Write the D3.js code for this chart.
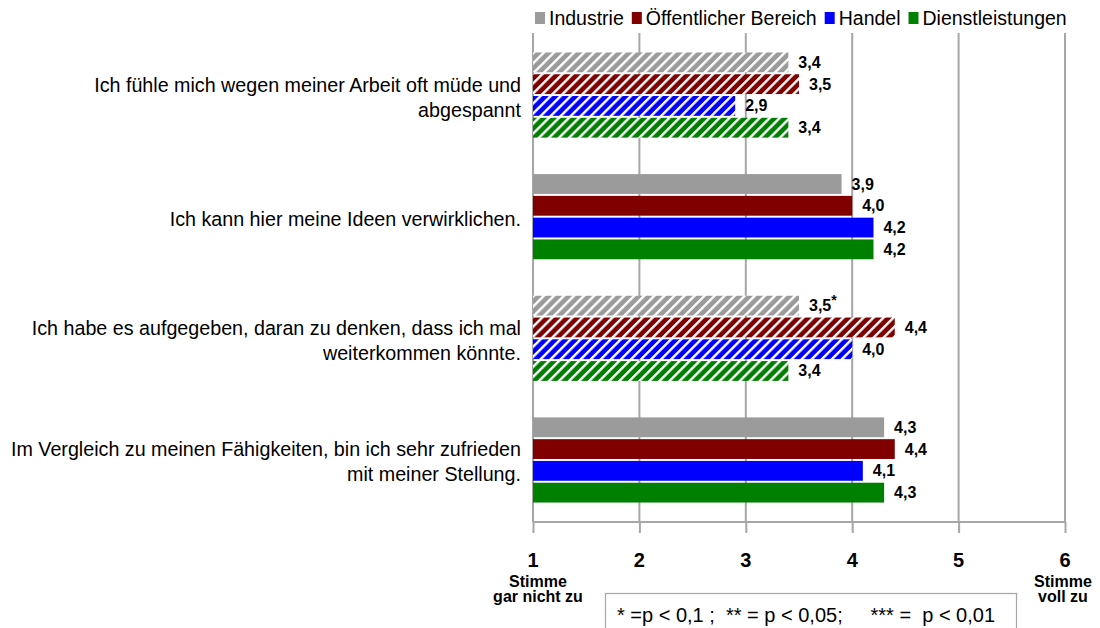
<!DOCTYPE html>
<html><head><meta charset="utf-8">
<script src="https://cdn.jsdelivr.net/npm/d3@7"></script>
<style>
html,body{margin:0;padding:0;background:#fff;}
svg{display:block;font-family:"Liberation Sans",Arial,sans-serif;}
</style></head>
<body>
<script>
// ---- data ----
const categories = [
  ["Ich fühle mich wegen meiner Arbeit oft müde und", "abgespannt"],
  ["Ich kann hier meine Ideen verwirklichen."],
  ["Ich habe es aufgegeben, daran zu denken, dass ich mal", "weiterkommen könnte."],
  ["Im Vergleich zu meinen Fähigkeiten, bin ich sehr zufrieden", "mit meiner Stellung."]
];
const hatchedCategories = [true, false, true, false];
const seriesNames = ["Industrie", "Öffentlicher Bereich", "Handel", "Dienstleistungen"];
const seriesColors = ["#9b9b9b", "#800000", "#0000ff", "#008000"];
const industrie = [3.4, 3.9, 3.5, 4.3];
const oeffentlich = [3.5, 4.0, 4.4, 4.4];
const handel = [2.9, 4.2, 4.0, 4.1];
const dienst = [3.4, 4.2, 3.4, 4.3];
// significance markers, per series (rows) and category (columns)
const sigIndustrie = ["", "", "*", ""];
const sigOeffentlich = ["", "", "", ""];
const sigHandel = ["", "", "", ""];
const sigDienst = ["", "", "", ""];
const tickValues = [1, 2, 3, 4, 5, 6];
const endLabels = {1: ["Stimme", "gar nicht zu"], 6: ["Stimme", "voll zu"]};
const footnote = "* =p < 0,1 ;  ** = p < 0,05;     *** =  p < 0,01";

const seriesValues = [industrie, oeffentlich, handel, dienst];
const significance = [sigIndustrie, sigOeffentlich, sigHandel, sigDienst];

(function draw() {
// ---- layout ----
const W = 1100, H = 628;
const mLeft = 533, mRight = 1065, mTop = 33, mBottom = 522;

const svg = d3.select("body").append("svg").attr("width", W).attr("height", H);
const defs = svg.append("defs");

seriesColors.forEach((c, i) => {
  const p = defs.append("pattern")
    .attr("id", "hatch" + i)
    .attr("patternUnits", "userSpaceOnUse")
    .attr("width", 7.1).attr("height", 7.1)
    .attr("patternTransform", "rotate(45)");
  p.append("rect").attr("width", 7.1).attr("height", 7.1).attr("fill", c);
  p.append("rect").attr("x", 0).attr("width", 2.4).attr("height", 7.1).attr("fill", "#fff");
});

const x = d3.scaleLinear().domain([1, 6]).range([mLeft, mRight]);
const y0 = d3.scaleBand().domain(d3.range(categories.length)).range([mTop, mBottom])
  .paddingInner(0.3).paddingOuter(0.16);
const y1 = d3.scaleBand().domain(d3.range(seriesNames.length)).range([0, y0.bandwidth()])
  .paddingInner(0.09);

// gridlines
svg.append("g").selectAll("line").data(tickValues).join("line")
  .attr("x1", d => x(d)).attr("x2", d => x(d))
  .attr("y1", mTop).attr("y2", mBottom)
  .attr("stroke", "#a6a6a6").attr("stroke-width", 2);

// x axis
const axis = d3.axisBottom(x).tickValues(tickValues).tickSize(11).tickFormat("");
const gx = svg.append("g").attr("transform", `translate(0,${mBottom})`).call(axis);
gx.select(".domain").attr("stroke", "#a6a6a6").attr("stroke-width", 2).attr("d", `M${mLeft},0H${mRight}`);
gx.selectAll(".tick line").attr("stroke", "#a6a6a6").attr("stroke-width", 2);

// tick labels
svg.append("g").selectAll("text").data(tickValues).join("text")
  .attr("x", d => x(d)).attr("y", 566.5)
  .attr("text-anchor", "middle")
  .attr("font-weight", "bold").attr("font-size", 20).attr("fill", "#000")
  .text(d => d);

Object.entries(endLabels).forEach(([k, lines]) => {
  const off = +k === 1 ? 5 : -2;
  const t = svg.append("text").attr("text-anchor", "middle")
    .attr("font-weight", "bold").attr("font-size", 16).attr("fill", "#000");
  lines.forEach((l, i) => t.append("tspan").attr("x", x(+k) + off).attr("y", 587 + i * 15).text(l));
});

// bars
const groups = svg.append("g").selectAll("g").data(categories).join("g")
  .attr("transform", (d, i) => `translate(0,${y0(i)})`);

groups.each(function(cat, ci) {
  const g = d3.select(this);
  const rows = seriesValues.map((vals, si) => ({si, v: vals[ci], sig: significance[si][ci]}));
  g.selectAll("rect").data(rows).join("rect")
    .attr("x", x(1))
    .attr("y", d => y1(d.si))
    .attr("width", d => x(d.v) - x(1))
    .attr("height", y1.bandwidth())
    .attr("fill", d => hatchedCategories[ci] ? `url(#hatch${d.si})` : seriesColors[d.si]);
  const lab = g.selectAll("text.val").data(rows).join("text").attr("class", "val")
    .attr("x", d => x(d.v) + 10)
    .attr("y", d => y1(d.si) + y1.bandwidth() / 2 + 5.5)
    .attr("font-weight", "bold").attr("font-size", 16).attr("fill", "#000");
  lab.append("tspan").text(d => d3.format(".1f")(d.v).replace(".", ","));
  lab.append("tspan").attr("dy", -6).attr("font-size", 14).text(d => d.sig);
});

// category labels
svg.append("g").selectAll("text").data(categories).join("text")
  .attr("text-anchor", "end").attr("font-size", 19.7).attr("fill", "#000")
  .each(function(lines, i) {
    const cy = y0(i) + y0.bandwidth() / 2 + 2;
    const lh = 25;
    const t = d3.select(this);
    lines.forEach((l, j) => {
      t.append("tspan").attr("x", 521)
        .attr("y", cy + (j - (lines.length - 1) / 2) * lh + 7)
        .text(l);
    });
  });

// legend
const leg = svg.append("g");
let lx = 535;
seriesNames.forEach((n, i) => {
  leg.append("rect").attr("x", lx).attr("y", 12).attr("width", 10).attr("height", 12).attr("fill", seriesColors[i]);
  const t = leg.append("text").attr("x", lx + 14).attr("y", 25).attr("font-size", 19.5).attr("fill", "#000").text(n);
  lx = lx + 14 + t.node().getComputedTextLength() + 8;
});

// footnote box
svg.append("rect").attr("x", 605.5).attr("y", 593.5).attr("width", 411).attr("height", 40)
  .attr("fill", "#fff").attr("stroke", "#a6a6a6").attr("stroke-width", 1.2);
svg.append("text").attr("x", 617).attr("y", 621.5).attr("font-size", 20).attr("fill", "#000")
  .style("white-space", "pre").text(footnote);
})();
</script>
</body></html>
